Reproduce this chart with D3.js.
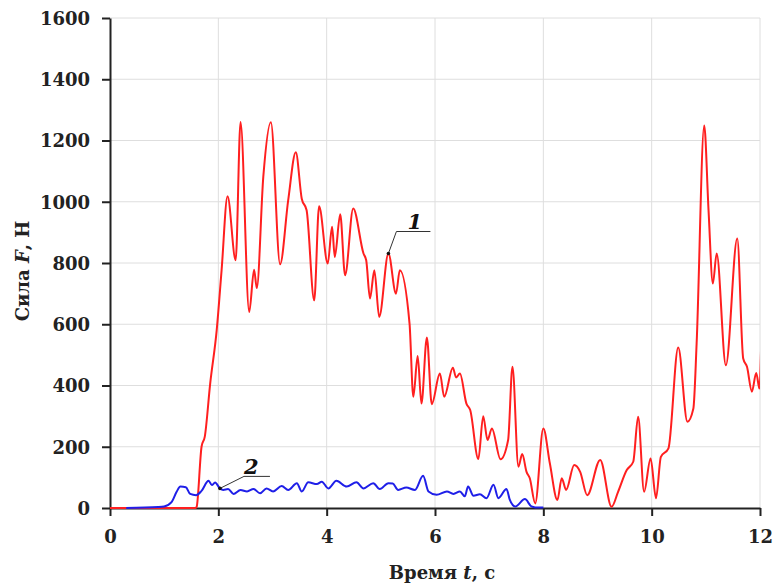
<!DOCTYPE html>
<html>
<head>
<meta charset="utf-8">
<script src="https://cdn.jsdelivr.net/npm/d3@7"></script>
<style>
  html, body { margin: 0; padding: 0; background: #fff; }
  svg { display: block; }
  .tick text { font-family: "DejaVu Serif", serif; font-weight: bold; font-size: 18px; fill: #222; }
</style>
</head>
<body>
<svg id="chart" width="777" height="585"></svg>
<script>
// Curve 1: time, s and force, N
const redT = [0, 1.58, 1.60, 1.69, 1.75, 1.85, 1.97, 2.06, 2.17, 2.32, 2.41, 2.57, 2.66, 2.71, 2.83, 2.97,
  3.14, 3.29, 3.43, 3.54, 3.63, 3.77, 3.86, 4.02, 4.10, 4.15, 4.25, 4.34, 4.49, 4.68, 4.73, 4.80, 4.88,
  4.97, 5.14, 5.28, 5.35, 5.53, 5.60, 5.68, 5.75, 5.85, 5.94, 6.09, 6.17, 6.33, 6.39, 6.46, 6.58, 6.65,
  6.80, 6.89, 6.97, 7.05, 7.21, 7.35, 7.43, 7.54, 7.61, 7.69, 7.75, 7.85, 8.00, 8.12, 8.26, 8.34, 8.42,
  8.57, 8.68, 8.81, 9.05, 9.26, 9.38, 9.54, 9.66, 9.75, 9.86, 9.98, 10.08, 10.17, 10.31, 10.49, 10.66,
  10.77, 10.83, 10.97, 11.05, 11.13, 11.20, 11.37, 11.58, 11.69, 11.76, 11.85, 11.93, 11.99, 12.03];
const redF = [0, 0, 4, 200, 233, 407, 581, 776, 1018, 809, 1260, 640, 778, 718, 1081, 1260,
  796, 1005, 1162, 1010, 972, 678, 985, 798, 918, 820, 959, 760, 978, 831, 809, 684, 776,
  624, 831, 700, 776, 602, 363, 496, 341, 557, 339, 439, 363, 458, 426, 439, 341, 320,
  160, 300, 222, 260, 159, 222, 461, 135, 176, 118, 97, 15, 260, 146, 26, 97, 59,
  140, 118, 42, 157, 4, 53, 124, 151, 298, 53, 162, 32, 167, 195, 524, 282,
  325, 537, 1249, 972, 733, 831, 466, 880, 488, 461, 380, 441, 390, 600];

// Curve 2: time, s and force, N
const blueT = [0.30, 0.89, 1.00, 1.14, 1.23, 1.30, 1.40, 1.48, 1.59, 1.69, 1.82, 1.88, 1.94, 2.03, 2.09,
  2.18, 2.28, 2.41, 2.53, 2.65, 2.77, 2.89, 3.01, 3.17, 3.29, 3.45, 3.54, 3.66, 3.82, 3.91, 4.03, 4.18,
  4.37, 4.55, 4.68, 4.86, 4.98, 5.14, 5.22, 5.32, 5.47, 5.63, 5.78, 5.88, 6.03, 6.22, 6.34, 6.46, 6.55,
  6.61, 6.71, 6.83, 6.95, 7.08, 7.17, 7.32, 7.38, 7.48, 7.66, 7.78, 7.85, 8.00];
const blueF = [0, 3, 5, 20, 53, 70, 68, 46, 42, 56, 89, 75, 83, 64, 59,
  62, 46, 59, 54, 62, 48, 64, 54, 72, 59, 81, 54, 84, 78, 86, 64, 89,
  70, 84, 64, 81, 62, 81, 80, 59, 67, 59, 105, 54, 43, 54, 46, 54, 38,
  70, 40, 45, 32, 76, 32, 62, 27, 5, 29, 5, 2, 2];

const xTicks = [0, 2, 4, 6, 8, 10, 12];
const yTicks = [0, 200, 400, 600, 800, 1000, 1200, 1400, 1600];

const margin = { left: 110, top: 18, right: 17, bottom: 77 };
const W = 777, H = 585;
const iw = W - margin.left - margin.right;
const ih = H - margin.top - margin.bottom;

const svg = d3.select("#chart");
const g = svg.append("g").attr("transform", `translate(${margin.left},${margin.top})`);

const x = d3.scaleLinear().domain([0, 12]).range([0, iw]);
const y = d3.scaleLinear().domain([0, 1600]).range([ih, 0]);

// grid
g.append("g").selectAll("line.v").data(xTicks.filter(d => d > 0)).join("line")
  .attr("x1", d => x(d)).attr("x2", d => x(d)).attr("y1", 0).attr("y2", ih)
  .attr("stroke", "#dedede").attr("stroke-width", 1);
g.append("g").selectAll("line.h").data(yTicks.filter(d => d > 0)).join("line")
  .attr("x1", 0).attr("x2", iw).attr("y1", d => y(d)).attr("y2", d => y(d))
  .attr("stroke", "#dedede").attr("stroke-width", 1);

// axes
const fmt = d3.format("d");
const xAxis = g.append("g").attr("transform", `translate(0,${ih})`)
  .call(d3.axisBottom(x).tickValues(xTicks).tickFormat(fmt).tickSize(8).tickSizeOuter(0).tickPadding(14));
const yAxis = g.append("g")
  .call(d3.axisLeft(y).tickValues(yTicks).tickFormat(fmt).tickSize(8).tickSizeOuter(0).tickPadding(12));
[xAxis, yAxis].forEach(a => {
  a.select(".domain").attr("stroke", "#222").attr("stroke-width", 2);
  a.selectAll(".tick line").attr("stroke", "#222").attr("stroke-width", 2);
});
yAxis.selectAll(".tick text").attr("dy", "0.36em");

// curves, drawn over the axis lines
svg.append("defs").append("clipPath").attr("id", "plotclip")
  .append("rect").attr("x", 0).attr("y", -5).attr("width", iw).attr("height", ih + 10);

const line = d3.line().x(d => x(d[0])).y(d => y(d[1])).curve(d3.curveMonotoneX);
const redData = redT.map((t, i) => [t, redF[i]]);
const blueData = blueT.map((t, i) => [t, blueF[i]]);

const curves = g.append("g").attr("clip-path", "url(#plotclip)");
curves.append("path").datum(redData).attr("d", line)
  .attr("fill", "none").attr("stroke", "#ff1f1f").attr("stroke-width", 2).attr("stroke-linejoin", "round");
curves.append("path").datum(blueData).attr("d", line)
  .attr("fill", "none").attr("stroke", "#1f1fe8").attr("stroke-width", 2).attr("stroke-linejoin", "round");

// curve labels with leaders
function leader(t, f, dx1, dy1, len, label, lx, ly) {
  const px = x(t), py = y(f);
  g.append("path")
    .attr("d", `M${px},${py} L${px + dx1},${py + dy1} L${px + dx1 + len},${py + dy1}`)
    .attr("fill", "none").attr("stroke", "#333").attr("stroke-width", 1);
  g.append("circle").attr("cx", px).attr("cy", py).attr("r", 1.8).attr("fill", "#111");
  g.append("text").attr("x", px + lx).attr("y", py + ly)
    .attr("font-family", "DejaVu Serif, serif").attr("font-style", "italic").attr("font-weight", "bold")
    .attr("font-size", 21).attr("fill", "#111").text(label);
}
leader(5.14, 831, 8, -22, 34, "1", 19, -25);
leader(2.03, 64, 24, -12, 26, "2", 24, -14);

// axis titles
const yt = svg.append("text")
  .attr("transform", `translate(29,${margin.top + ih / 2 + 8}) rotate(-90)`)
  .attr("text-anchor", "middle")
  .attr("font-family", "DejaVu Serif, serif").attr("font-weight", "bold").attr("font-size", 18).attr("fill", "#222");
yt.append("tspan").text("Сила ");
yt.append("tspan").attr("font-style", "italic").text("F");
yt.append("tspan").text(", Н");

const xt = svg.append("text")
  .attr("x", 442).attr("y", 579)
  .attr("text-anchor", "middle")
  .attr("font-family", "DejaVu Serif, serif").attr("font-weight", "bold").attr("font-size", 18).attr("fill", "#222");
xt.append("tspan").text("Время ");
xt.append("tspan").attr("font-style", "italic").text("t");
xt.append("tspan").text(", с");
</script>
</body>
</html>
